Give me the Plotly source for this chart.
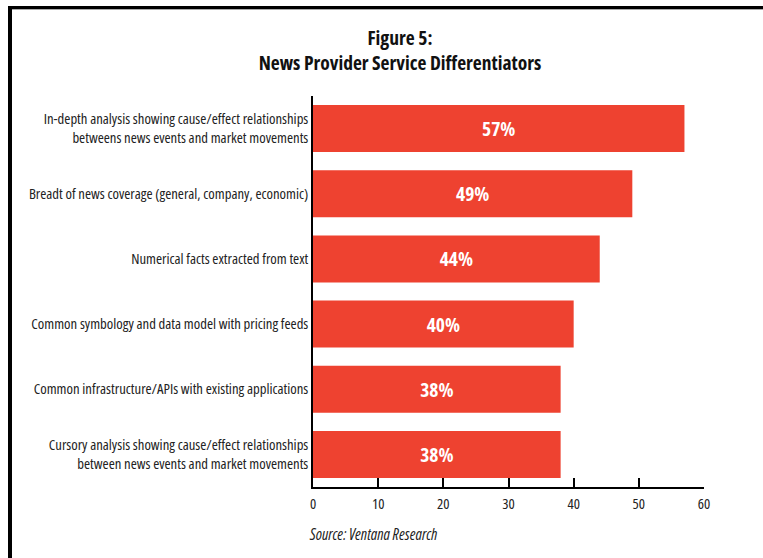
import plotly.graph_objects as go

categories = [
    "In-depth analysis showing cause/effect relationships<br>betweens news events and market movements",
    "Breadt of news coverage (general, company, economic)",
    "Numerical facts extracted from text",
    "Common symbology and data model with pricing feeds",
    "Common infrastructure/APIs with existing applications",
    "Cursory analysis showing cause/effect relationships<br>between news events and market movements",
]
values = [57, 49, 44, 40, 38, 38]
tick_vals = [0, 10, 20, 30, 40, 50, 60]

W, H = 763, 558
L, R, T, B = 313, 59, 96, 71
pw = W - L - R
ph = H - T - B

def px(x):
    return (x - L) / pw

def py(y):
    return (H - B - y) / ph

FONT = "Open Sans, sans-serif"

def cond(s, pct=75):
    return "<br>".join(f'<span style="font-stretch:{pct}%">{p}</span>' for p in s.split("<br>"))

fig = go.Figure(go.Bar(
    y=categories,
    x=values,
    orientation="h",
    marker=dict(color="#EE4230", line=dict(width=0)),
    text=[cond(f"<b>{v}%</b>") for v in values],
    textposition="inside",
    insidetextanchor="middle",
    textfont=dict(color="white", size=19.5, family=FONT),
    hoverinfo="skip",
))

fig.update_layout(
    width=W, height=H,
    margin=dict(l=L, r=R, t=T, b=B, autoexpand=False),
    paper_bgcolor="white",
    plot_bgcolor="white",
    bargap=0.28,
    showlegend=False,
    font=dict(family=FONT, color="#222222", size=14.7),
    title=dict(
        text=cond("<b>Figure 5:</b>") + "<br>" + cond("<b>News Provider Service Differentiators</b>"),
        x=(400) / W, xanchor="center",
        y=1 - 45 / H, yanchor="top",
        font=dict(size=19.5, family=FONT, color="#111111"),
    ),
    xaxis=dict(
        range=[0, 60],
        tickvals=tick_vals,
        ticktext=[cond(str(t)) for t in tick_vals],
        ticks="inside",
        ticklen=9,
        tickwidth=1.5,
        tickcolor="black",
        showline=True,
        linecolor="black",
        linewidth=1.5,
        showgrid=False,
        zeroline=False,
        automargin=False,
        ticklabelstandoff=3,
        tickfont=dict(size=14.7, family=FONT, color="#222222"),
        fixedrange=True,
    ),
    yaxis=dict(
        categoryorder="array",
        categoryarray=categories[::-1],
        tickmode="array",
        tickvals=categories,
        ticktext=[cond(c) for c in categories],
        range=[-0.5, 5.5],
        showline=True,
        linecolor="black",
        linewidth=1.5,
        ticks="",
        showgrid=False,
        zeroline=False,
        automargin=False,
        ticklabelstandoff=0,
        tickfont=dict(size=14.7, family=FONT, color="#222222"),
        fixedrange=True,
    ),
    shapes=[
        dict(type="rect", xref="paper", yref="paper",
             x0=px(8), x1=px(12), y0=py(H + 5), y1=py(6),
             fillcolor="black", line=dict(width=0), layer="above"),
        dict(type="rect", xref="paper", yref="paper",
             x0=px(8), x1=px(W + 5), y0=py(9), y1=py(6),
             fillcolor="black", line=dict(width=0), layer="above"),
        dict(type="rect", xref="paper", yref="paper",
             x0=px(12), x1=px(W + 5), y0=py(10), y1=py(9),
             fillcolor="#aaaaaa", line=dict(width=0), layer="above"),
    ],
    annotations=[
        dict(text=cond("<i>Source: Ventana Research</i>"),
             xref="paper", yref="paper",
             x=px(307), y=py(534), xanchor="left", yanchor="middle",
             showarrow=False,
             font=dict(size=15.5, family=FONT, color="#222222")),
    ],
)

fig.write_html("out.html")
